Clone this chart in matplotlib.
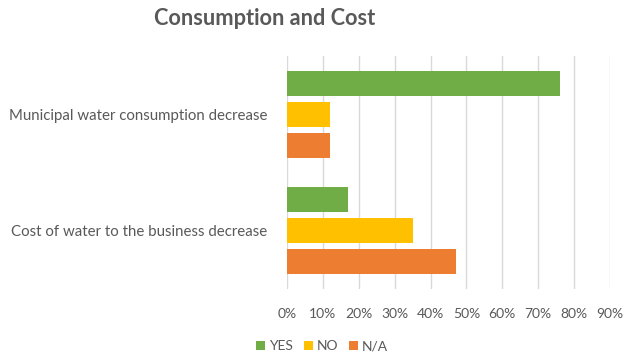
import matplotlib
matplotlib.use("Agg")
import matplotlib.pyplot as plt
import numpy as np
from matplotlib.ticker import MultipleLocator, PercentFormatter

categories = ["Municipal water consumption decrease",
              "Cost of water to the business decrease"]
series = ["YES", "NO", "N/A"]
yes = [76, 17]
no = [12, 35]
na = [12, 47]
colors = ["#70AD47", "#FFC000", "#ED7D31"]

GREY = "#595959"
plt.rcParams["font.family"] = ["Lato", "DejaVu Sans"]

fig = plt.figure(figsize=(6.3, 3.59), dpi=100)
ax = fig.add_axes([0.4556, 0.195, 0.5127, 0.649])

y = np.arange(len(categories))
h = 0.215
step = 0.266
for i, (vals, name) in enumerate(zip([yes, no, na], series)):
    ax.barh(y + (i - 1) * step, vals, height=h, color=colors[i],
            label=name, zorder=3)

ax.set_xlim(0, 90)
ax.set_ylim(1.5, -0.5)
ax.set_yticks(y)
ax.set_yticklabels(categories)
ax.xaxis.set_major_locator(MultipleLocator(10))
ax.xaxis.set_major_formatter(PercentFormatter(decimals=0))
ax.grid(axis="x", color="#D9D9D9", linewidth=1, zorder=0)
for s in ax.spines.values():
    s.set_visible(False)
ax.tick_params(axis="both", length=0, colors=GREY, labelsize=10)
ax.tick_params(axis="y", labelsize=10.8, pad=14)
ax.tick_params(axis="x", pad=14)

fig.suptitle("Consumption and Cost", x=0.42, y=0.977, fontsize=15.7,
             fontweight="bold", color=GREY)
fig.legend(loc="center", bbox_to_anchor=(0.511, 0.036), ncol=3, frameon=False,
           fontsize=10, labelcolor=GREY, handlelength=0.65, handleheight=0.65,
           handletextpad=0.25, columnspacing=0.8)

fig.savefig("out.png", dpi=100)
